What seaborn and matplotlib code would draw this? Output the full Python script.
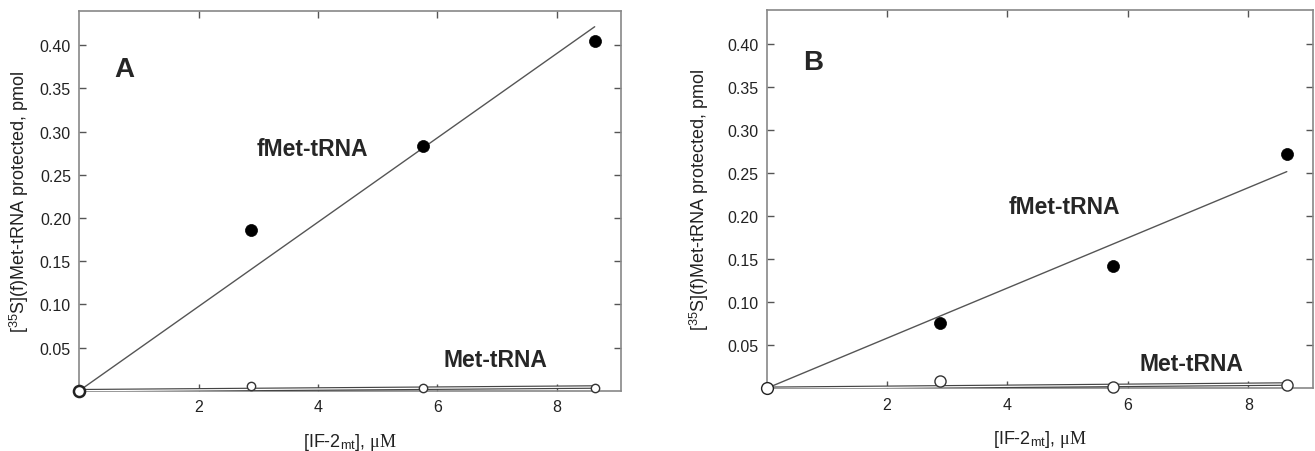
import numpy as np
import pandas as pd
import matplotlib
matplotlib.use("Agg")
import matplotlib.pyplot as plt
import seaborn as sns

# ---- data ----
conc = [0.0, 2.88, 5.76, 8.64]                    # [IF-2mt], uM
fmet_A = [0.0, 0.186, 0.283, 0.405]
met_A = [0.0, 0.0058, 0.0030, 0.0027]
fmet_B = [0.0, 0.076, 0.142, 0.272]
met_B = [0.0, 0.0081, 0.0019, 0.0038]
xticks = [2, 4, 6, 8]
yticks = [0.05, 0.10, 0.15, 0.20, 0.25, 0.30, 0.35, 0.40]
panel_labels = ["A", "B"]

sns.set_style("ticks")
plt.rcParams["font.family"] = ["Liberation Sans", "DejaVu Sans"]
plt.rcParams["mathtext.fontset"] = "custom"
plt.rcParams["mathtext.rm"] = "Liberation Sans"
plt.rcParams["mathtext.it"] = "Liberation Serif"
plt.rcParams["mathtext.bf"] = "Liberation Sans:bold"

fig = plt.figure(figsize=(13.15, 4.52), dpi=100)
axA = fig.add_axes([0.0603, 0.1334, 0.4119, 0.8406])
axB = fig.add_axes([0.5830, 0.1387, 0.4157, 0.8370])


def fit_origin(x, y):
    x = np.asarray(x); y = np.asarray(y)
    k = (x * y).sum() / (x * x).sum()
    return [0.0, x[-1]], [0.0, k * x[-1]]


def panel(ax, fmet, met, label, label_xy, fmet_xy, met_xy, ylab_x, open_ms, origin_ms):
    df = pd.DataFrame({"x": conc, "fmet": fmet, "met": met})
    # fMet fit line
    fx, fy = fit_origin(conc, fmet)
    sns.lineplot(x=fx, y=fy, ax=ax, color="#555555", lw=1.0, zorder=2)
    # Met fit line (double line look)
    mx, my = fit_origin(conc, met)
    sns.lineplot(x=mx, y=my, ax=ax, color="#444444", lw=2.6, zorder=3)
    sns.lineplot(x=mx, y=my, ax=ax, color="white", lw=0.9, zorder=3)
    # fMet points
    sns.scatterplot(data=df.iloc[1:], x="x", y="fmet", ax=ax, color="black",
                    s=75, edgecolor="black", linewidth=0.5, zorder=5, clip_on=False)
    # Met points
    sns.scatterplot(data=df.iloc[1:], x="x", y="met", ax=ax, facecolor="white",
                    s=open_ms ** 2, edgecolor="#333333", linewidth=1.0, zorder=5,
                    clip_on=False)
    # origin
    sns.scatterplot(data=df.iloc[:1], x="x", y="met", ax=ax, facecolor="white",
                    s=origin_ms ** 2, edgecolor="#222222", linewidth=1.8 if label == "A" else 1.0,
                    zorder=6, clip_on=False)

    ax.set_xlim(0, 9.08)
    ax.set_ylim(0, 0.44)
    ax.set_xticks(xticks)
    ax.set_xticklabels([str(t) for t in xticks])
    ax.set_yticks(yticks)
    ax.set_yticklabels([f"{t:.2f}" for t in yticks])
    ax.tick_params(direction="in", length=5, width=1.0, colors="#555555",
                   labelcolor="#222222", labelsize=11.5, top=True, right=True, pad=6)
    for s in ax.spines.values():
        s.set_color("#888888")
        s.set_linewidth(1.2)
    ax.set_xlabel(r"[IF-2$_{\mathrm{mt}}$], $\mu\mathit{M}$", fontsize=13, color="#222222",
                  labelpad=12)
    ax.set_ylabel(r"[$^{35}$S](f)Met-tRNA protected, pmol", fontsize=13, color="#222222")
    ax.yaxis.set_label_coords(ylab_x, 0.5)

    ax.text(label_xy[0], label_xy[1], label, fontsize=20, fontweight="bold",
            ha="center", va="center")
    ax.text(fmet_xy[0], fmet_xy[1], "fMet-tRNA", fontsize=16.5, fontweight="bold",
            ha="center", va="center")
    ax.text(met_xy[0], met_xy[1], "Met-tRNA", fontsize=16.5, fontweight="bold",
            ha="center", va="center")


panel(axA, fmet_A, met_A, panel_labels[0], (0.76, 0.372), (3.9, 0.281), (6.97, 0.0356),
      -0.089, 6.0, 8.0)
panel(axB, fmet_B, met_B, panel_labels[1], (0.77, 0.38), (4.94, 0.2117), (7.05, 0.029),
      -0.102, 8.0, 8.5)

fig.savefig("out.png", dpi=100)
